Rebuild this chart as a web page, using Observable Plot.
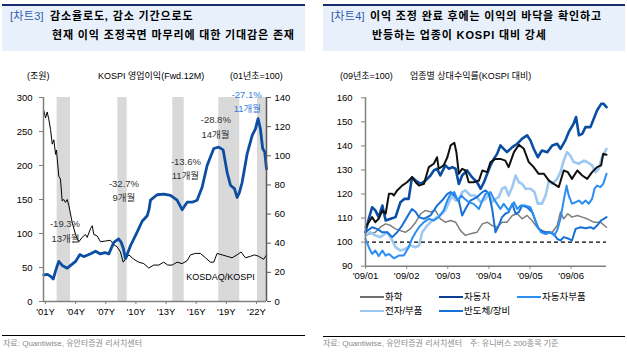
<!DOCTYPE html>
<html><head><meta charset="utf-8">
<script src="https://cdn.jsdelivr.net/npm/d3@7"></script>
<script src="https://cdn.jsdelivr.net/npm/@observablehq/plot@0.6"></script>
<style>
body{margin:0;background:#fff;width:627px;height:353px;position:relative;overflow:hidden;font-family:"Liberation Sans","Noto Sans CJK KR",sans-serif;}
.abs{position:absolute;white-space:nowrap;line-height:1;}
.tbox{position:absolute;top:4px;height:45px;background:#e8f1fb;border-top:2px solid #1b2a6b;}
.t{font-size:11px;font-weight:bold;color:#000;letter-spacing:0.85px;}
.tag{font-size:11px;color:#2f5aa8;letter-spacing:0.3px;}
.hdr{font-size:9px;color:#000;}
.lg{font-size:9.5px;color:#000;}
.src{font-size:8px;color:#8a8a8a;}
.sep{position:absolute;height:1px;background:#000;}
.sw{position:absolute;height:2px;width:24px;}
</style></head><body>
<div class="tbox" style="left:2px;width:303px;"></div>
<div class="tbox" style="left:323px;width:302px;"></div>
<div id="titles"></div>
<div id="left" class="abs" style="left:0;top:60px;"></div>
<div id="right" class="abs" style="left:317px;top:60px;"></div>
<div id="legend"></div>
<div class="sep" style="left:2px;width:303px;top:335px;"></div>
<div class="sep" style="left:323px;width:302px;top:336px;"></div>
<script>
// ---------- Left chart data ----------
const kospiYear = [2000.83,2001.2,2001.5,2001.77,2002.0,2002.32,2002.66,2003.16,2003.66,2003.99,2004.42,2004.8,2005.15,2005.6,2005.98,2006.47,2006.9,2007.3,2007.8,2008.29,2008.53,2008.75,2008.96,2009.2,2009.46,2010.12,2010.62,2011.12,2011.3,2011.45,2012.11,2012.77,2013.44,2014.1,2014.6,2015.1,2015.6,2016.09,2016.59,2017.09,2017.75,2018.24,2018.68,2019.08,2019.41,2019.81,2020.07,2020.3,2020.57,2021.07,2021.57,2021.9,2022.16,2022.39,2022.62,2022.82,2023.0];
const kospiOP   = [39,40,37,33,45,59,53,49,55,59,69,66,68,71,74,70,72,70,87,92,87,78,63,72,82,102,118,126,135,149,157,158,156,149,135,146,146,149,168,200,225,227,223,190,171,166,153,160,175,217,244,254,269,254,225,220,195];

const ratioYear = [2000.83,2001.0,2001.17,2001.33,2001.5,2001.67,2001.83,2002.0,2002.09,2002.32,2002.49,2002.66,2002.82,2002.99,2003.16,2003.32,2003.66,2003.99,2004.32,2004.65,2004.98,2005.15,2005.48,2005.65,2005.81,2006.14,2006.47,2006.97,2007.47,2007.8,2008.13,2008.46,2008.73,2008.96,2009.29,2009.79,2010.28,2010.78,2011.28,2011.78,2012.28,2012.77,2013.17,2013.61,2014.1,2014.6,2015.1,2015.43,2015.93,2016.42,2016.92,2017.42,2017.75,2018.08,2018.58,2019.08,2019.57,2020.07,2020.47,2020.9,2021.4,2021.8,2022.22,2022.72,2023.0];
const ratioVal  = [131,126,130,125,118,108,111,101,104,86,84,69,70,68,70,66,54,46,41,44,46,44,50,52,46,45,41,41.5,42,39,37.5,34,27,29,32,29,27,26,23,25,25,27,25,25,27,26,28,32,33,33,30,27,27,33,32,31,30,32,34,30,31,32,31,29,32];

const bandStart = [2002.16,2008.2,2013.67,2018.25,2022.1];
const bandEnd   = [2003.49,2009.13,2014.81,2020.34,2023.0];

const annText  = ["-19.3%","13개월","-32.7%","9개월","-13.6%","11개월","-28.8%","14개월","-27.1%","11개월"];
const annYear  = [2002.94,2002.99,2008.81,2008.79,2014.98,2014.93,2017.95,2017.92,2021.03,2021.1];
const annVal   = [114.7,92.6,173.5,152.9,205.9,185.3,267.6,245.6,304.4,283.8];
const annBlue  = [false,false,false,false,false,false,false,false,true,true];

const leftTicks  = [0,50,100,150,200,250,300];
const rightTicks = [0,20,40,60,80,100,120,140];
const yearTicks  = [2001,2004,2007,2010,2013,2016,2019,2022];

// ---------- Right chart data ----------
const seriesNames = ["화학","전자/부품","반도체/장비","자동차부품","자동차","기타"];
const chemT = [0,.12,.24,.36,.49,.61,.73,.85,.97,1.09,1.22,1.34,1.46,1.58,1.70,1.82,1.94,2.07,2.19,2.31,2.43,2.55,2.71,2.84,2.96,3.08,3.20,3.32,3.44,3.57,3.69,3.81,3.93,4.05,4.17,4.29,4.42,4.54,4.66,4.74,4.82,4.92,5.02,5.15,5.27,5.39,5.55,5.71,5.86];
const chemV = [102.8,103.5,104.1,106.2,107.6,106.9,105.5,104.8,104.1,105.5,108.3,111.8,113.2,112.5,113.2,109.7,108.3,109.0,108.3,104.8,102.8,103.5,104.1,107.6,108.3,106.9,106.2,108.3,108.3,111.1,111.8,109.7,111.1,109.0,106.2,104.8,104.1,104.1,106.9,112.5,109.7,111.8,110.4,111.1,110.4,109.7,108.3,108.3,106.2];
const elecT = [0,.12,.24,.36,.53,.65,.73,.85,.97,1.09,1.22,1.30,1.38,1.50,1.62,1.74,1.86,1.94,2.03,2.11,2.19,2.27,2.35,2.43,2.55,2.67,2.80,2.92,3.00,3.08,3.16,3.24,3.32,3.40,3.48,3.57,3.65,3.73,3.81,3.89,4.01,4.11,4.19,4.29,4.38,4.46,4.54,4.66,4.74,4.82,4.90,4.98,5.06,5.19,5.31,5.39,5.51,5.59,5.67,5.75,5.86];
const elecV = [102.8,104.1,102.8,102.1,104.1,100.7,97.9,96.5,97.2,98.6,97.9,98.6,104.1,106.9,109.0,110.4,111.8,113.2,116.6,119.4,117.3,117.3,120.8,121.5,119.4,119.4,116.6,118.0,120.1,116.6,118.0,118.7,122.2,122.9,119.4,122.9,127.7,124.9,124.2,122.2,122.2,120.8,116.0,116.0,119.4,125.6,124.2,126.3,129.1,133.9,137.4,136.0,133.3,132.6,133.9,133.3,131.9,129.1,130.5,135.3,138.8];
const semiT = [0,.16,.28,.41,.53,.65,.77,.89,1.01,1.13,1.22,1.30,1.42,1.58,1.74,1.86,1.99,2.07,2.16,2.27,2.35,2.43,2.55,2.71,2.84,2.92,3.00,3.08,3.16,3.24,3.32,3.40,3.48,3.57,3.65,3.73,3.81,3.93,4.05,4.13,4.21,4.34,4.46,4.58,4.66,4.74,4.82,4.94,5.02,5.11,5.23,5.35,5.47,5.55,5.63,5.73,5.86];
const semiV = [104.1,106.2,105.5,104.1,104.1,102.1,104.1,106.9,110.4,113.8,112.5,110.4,109.7,111.1,115.2,117.3,120.1,120.8,119.4,117.3,111.1,113.8,117.3,118.7,120.8,121.5,120.1,113.8,104.1,106.9,110.4,111.8,112.5,115.9,111.8,112.5,115.2,114.5,112.5,109.0,105.5,104.1,104.1,103.4,101.4,100.7,102.1,101.4,100.7,105.5,106.2,105.8,106.2,105.5,106.9,109.0,110.4];
const partT = [0,.08,.16,.24,.32,.41,.49,.57,.69,.81,.93,1.05,1.13,1.22,1.30,1.42,1.54,1.66,1.78,1.90,1.99,2.07,2.16,2.24,2.33,2.41,2.51,2.63,2.76,2.84,2.92,3.04,3.12,3.20,3.28,3.36,3.48,3.61,3.69,3.77,3.89,4.01,4.09,4.17,4.27,4.38,4.50,4.59,4.66,4.74,4.82,4.89,4.94,5.02,5.11,5.19,5.27,5.35,5.43,5.51,5.57,5.63,5.71,5.78,5.86];
const partV = [101.4,97.9,95.1,96.5,94.2,96.5,94.4,95.1,93.3,94.4,94.4,97.9,101.4,104.1,106.2,108.3,109.7,109.0,110.4,113.2,117.3,120.1,120.8,117.3,119.4,118.0,116.6,115.9,113.8,117.3,120.1,120.8,118.0,115.9,113.8,115.9,113.2,116.6,113.8,115.2,115.2,114.5,111.1,106.9,104.1,103.4,104.1,102.8,104.9,109.7,117.3,123.5,119.4,116.0,116.6,117.3,116.0,117.3,116.0,118.0,122.2,123.5,122.9,124.2,128.4];
const autoT = [0,.08,.16,.24,.32,.41,.49,.61,.73,.85,.95,1.05,1.13,1.22,1.34,1.46,1.58,1.66,1.74,1.82,1.94,2.03,2.11,2.19,2.27,2.35,2.47,2.59,2.71,2.80,2.88,2.96,3.04,3.12,3.20,3.28,3.36,3.44,3.57,3.69,3.81,3.93,4.01,4.09,4.19,4.29,4.42,4.54,4.66,4.74,4.86,4.94,5.06,5.12,5.19,5.27,5.35,5.47,5.55,5.63,5.73,5.79,5.86];
const autoV = [104.1,109.7,114.5,113.2,110.4,115.2,109.0,109.7,110.4,116.6,118.0,118.0,127.0,125.6,124.2,125.6,127.7,129.8,130.5,127.7,131.9,130.5,131.2,130.5,124.2,127.7,129.8,127.0,124.9,122.2,124.9,128.4,131.9,134.6,136.7,140.2,138.8,137.4,139.5,140.9,143.0,144.4,142.3,138.8,135.3,138.1,137.4,140.2,140.9,138.8,142.3,145.7,149.2,152.0,144.4,145.0,147.8,147.8,151.3,154.7,157.5,157.5,156.1];
const blkT = [0,.08,.16,.24,.32,.41,.49,.57,.65,.69,.77,.89,1.01,1.13,1.22,1.30,1.42,1.54,1.66,1.74,1.78,1.90,1.99,2.07,2.16,2.21,2.27,2.35,2.43,2.51,2.63,2.76,2.84,2.96,3.04,3.16,3.28,3.40,3.48,3.61,3.73,3.85,3.97,4.09,4.21,4.34,4.46,4.58,4.70,4.82,4.92,5.02,5.15,5.27,5.39,5.51,5.63,5.73,5.78,5.86];
const blkV = [106.2,108.3,110.4,108.3,109.7,113.2,111.8,120.1,120.1,119.4,121.5,123.5,124.9,127.0,124.9,123.5,124.2,131.2,132.6,135.3,130.5,131.9,135.3,140.2,141.3,137.4,128.4,130.5,129.8,124.9,124.9,125.6,129.8,129.1,133.3,134.6,134.6,133.9,131.2,137.4,140.5,138.8,133.3,131.2,128.4,128.4,125.6,124.2,122.9,129.8,129.1,126.3,129.8,127.7,126.3,129.1,131.2,131.9,136.7,136.3];
const monthTicks = [0,1,2,3,4,5];
const monthLabels = ["'09/01","'09/02","'09/03","'09/04","'09/05","'09/06"];
const rightYTicks = [90,100,110,120,130,140,150,160];
const legendNames = ["화학","자동차","자동차부품","전자/부품","반도체/장비"];

// ---------- styles ----------
const FONT = '"Liberation Sans","Noto Sans CJK KR",sans-serif';
const AX = "#808080";
const colors = {"화학":"#7f7f7f","전자/부품":"#9dc8f2","반도체/장비":"#1670d6","자동차부품":"#2b8ff2","자동차":"#0a4ea3","기타":"#111111"};
const widths = {"화학":1.5,"전자/부품":2.6,"반도체/장비":2,"자동차부품":2,"자동차":2.6,"기타":2};

// ---------- titles & headers ----------
const T = document.getElementById("titles");
function put(cls, text, x, y, extra) {
  const d = document.createElement("div");
  d.className = "abs " + cls; d.textContent = text;
  d.style.left = x + "px"; d.style.top = y + "px";
  if (extra) Object.assign(d.style, extra);
  T.appendChild(d); return d;
}
put("tag", "[차트3]", 10, 11);
put("t", "감소율로도, 감소 기간으로도", 50, 11);
put("t", "현재 이익 조정국면 마무리에 대한 기대감은 존재", 52, 29.5);
put("tag", "[차트4]", 331, 11);
put("t", "이익 조정 완료 후에는 이익의 바닥을 확인하고", 370, 11);
put("t", "반등하는 업종이 KOSPI 대비 강세", 372, 29.5);
put("hdr", "(조원)", 27, 71.5);
put("hdr", "KOSPI 영업이익(Fwd.12M)", 98, 71.5);
put("hdr", "(01년초=100)", 230, 71.5);
put("hdr", "(09년초=100)", 340, 71.5);
put("hdr", "업종별 상대수익률(KOSPI 대비)", 410, 71.5);
put("src", "자료: Quantiwise, 유안타증권 리서치센터", 3, 340);
put("src", "자료: Quantiwise, 유안타증권 리서치센터", 323, 340);
put("src", "주: 유니버스 200종목 기준", 470, 340);

// ---------- left chart ----------
const S = 300 / 140;
const kospiRows = kospiYear.map((x, i) => ({x, y: kospiOP[i]}));
const ratioRows = ratioYear.map((x, i) => ({x, y: ratioVal[i] * S}));
const bands = bandStart.map((s, i) => ({s, e: bandEnd[i]}));
const anns = annText.map((t, i) => ({t, x: annYear[i], y: annVal[i], blue: annBlue[i]}));

const left = Plot.plot({
  width: 310, height: 270,
  marginLeft: 43, marginRight: 44, marginTop: 37, marginBottom: 29,
  style: {fontFamily: FONT, fontSize: "9.5px", background: "transparent", overflow: "visible", color: "#000"},
  x: {domain: [2000.8, 2023.0], axis: null},
  y: {domain: [0, 300], axis: null},
  marks: [
    Plot.rect(bands, {x1: "s", x2: "e", y1: () => 0, y2: () => 300, fill: "#d9d9d9"}),
    Plot.line(ratioRows, {x: "x", y: "y", stroke: "#000", strokeWidth: 1}),
    Plot.line(kospiRows, {x: "x", y: "y", stroke: "#0b4ea2", strokeWidth: 2.8, curve: "linear"}),
    Plot.text(anns, {x: "x", y: "y", text: "t", fill: d => d.blue ? "#3a7dd8" : "#333", fontSize: 9.5}),
    Plot.text(["KOSDAQ/KOSPI"], {x: () => 2018.41, y: () => 35.3, text: d => d, fill: "#000", fontSize: 9}),
    Plot.ruleX([2000.8], {stroke: AX, strokeWidth: 1.5}),
    Plot.ruleX([2023.0], {stroke: "#595959", strokeWidth: 1.5}),
    Plot.ruleY([0], {stroke: AX, strokeWidth: 1.5}),
    Plot.axisY(leftTicks, {anchor: "left", tickSize: 4, tickPadding: 7, stroke: AX, fill: "#000", label: null}),
    Plot.axisY(rightTicks.map(v => v * S), {anchor: "right", tickSize: 4, tickPadding: 4, stroke: "#595959", fill: "#000", label: null, tickFormat: d => Math.round(d / S)}),
    Plot.axisX(yearTicks, {anchor: "bottom", tickSize: 3, tickPadding: 4, stroke: AX, fill: "#000", label: null, tickFormat: d => "'" + String(d).slice(2) + "Y"})
  ]
});
document.getElementById("left").appendChild(left);

// ---------- right chart ----------
const seriesData = {
  "화학": [chemT, chemV], "전자/부품": [elecT, elecV], "반도체/장비": [semiT, semiV],
  "자동차부품": [partT, partV], "자동차": [autoT, autoV], "기타": [blkT, blkV]
};
const lineMarks = seriesNames.map(name => {
  const [ts, vs] = seriesData[name];
  const rows = ts.map((t, i) => ({t, v: vs[i]}));
  return Plot.line(rows, {x: "t", y: "v", stroke: colors[name], strokeWidth: widths[name], strokeLinejoin: "round"});
});
const right = Plot.plot({
  width: 310, height: 235,
  marginLeft: 48, marginRight: 21, marginTop: 37.3, marginBottom: 29.3,
  style: {fontFamily: FONT, fontSize: "9.5px", background: "transparent", overflow: "visible", color: "#000"},
  x: {domain: [0, 5.86], axis: null},
  y: {domain: [90, 160], axis: null},
  marks: [
    Plot.ruleY([100], {stroke: "#000", strokeWidth: 1.2, strokeDasharray: "4,3"}),
    ...lineMarks,
    Plot.ruleX([0], {stroke: AX, strokeWidth: 1.5}),
    Plot.ruleY([90], {stroke: AX, strokeWidth: 1.5}),
    Plot.axisY(rightYTicks, {anchor: "left", tickSize: 4, tickPadding: 9, stroke: AX, fill: "#000", label: null}),
    Plot.axisX(monthTicks, {anchor: "bottom", tickSize: 3, tickPadding: 3, stroke: AX, fill: "#000", label: null, tickFormat: d => monthLabels[d]})
  ]
});
document.getElementById("right").appendChild(right);

// ---------- legend ----------
const L = document.getElementById("legend");
const legendPos = [[360, 297], [439, 297], [517, 297], [360, 311], [439, 311]];
const legendColor = {"화학":"#6f6f6f","자동차":"#0a3f94","자동차부품":"#2b8ff2","전자/부품":"#9dc8f2","반도체/장비":"#1670d6"};
legendNames.forEach((n, i) => {
  const [x, y] = legendPos[i];
  const sw = document.createElement("div");
  sw.className = "sw"; sw.style.left = x + "px"; sw.style.top = (y - 1) + "px";
  sw.style.background = legendColor[n];
  if (n === "화학") sw.style.height = "1.5px";
  L.appendChild(sw);
  const t = document.createElement("div");
  t.className = "abs lg"; t.textContent = n;
  t.style.left = (x + 25) + "px"; t.style.top = (y - 5) + "px";
  L.appendChild(t);
});
</script>
</body></html>
